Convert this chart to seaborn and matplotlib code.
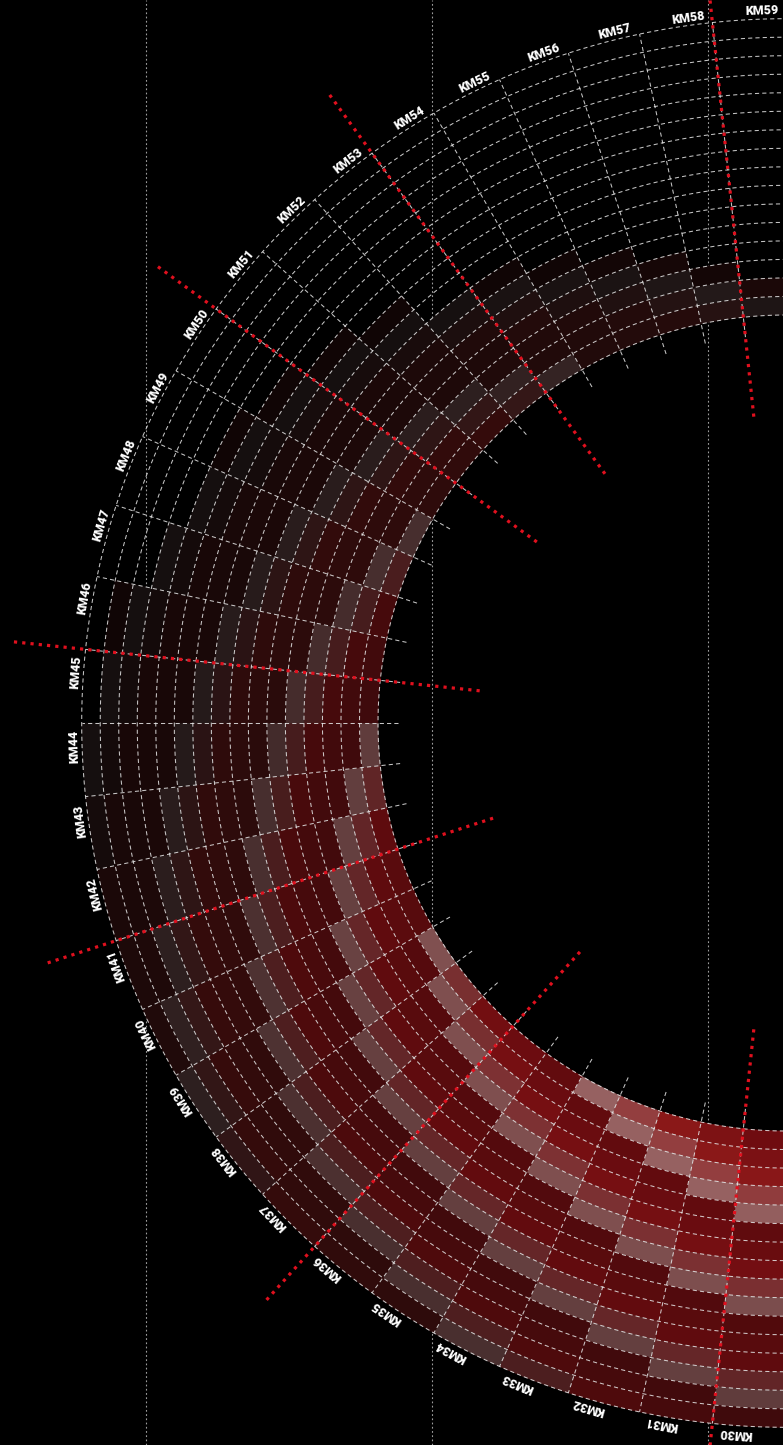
import numpy as np
import matplotlib
matplotlib.use("Agg")
import matplotlib.pyplot as plt
import seaborn as sns
from matplotlib.colors import Normalize

# ---------------- data ----------------
segments = ["KM30", "KM31", "KM32", "KM33", "KM34", "KM35", "KM36", "KM37", "KM38", "KM39",
            "KM40", "KM41", "KM42", "KM43", "KM44", "KM45", "KM46", "KM47", "KM48", "KM49",
            "KM50", "KM51", "KM52", "KM53", "KM54", "KM55", "KM56", "KM57", "KM58", "KM59"]

# intensity per segment, inner ring -> outer ring (16 rings), 0 = no data
levels = [
    [6.8, 7.6, 8.5, 8.5, 8.2, 5.8, 6.4, 7.1, 7.1, 6.8, 4.7, 5.2, 5.7, 5.6, 5.3, 3.7],
    [7.7, 8.6, 8.7, 8.4, 5.9, 6.5, 7.2, 7.2, 6.9, 4.8, 5.3, 5.8, 5.8, 5.5, 3.8, 4.1],
    [8.6, 8.7, 8.4, 5.9, 6.5, 7.2, 7.2, 6.9, 4.8, 5.3, 5.9, 5.8, 5.5, 3.8, 4.1, 4.5],
    [8.7, 8.4, 5.9, 6.5, 7.3, 7.2, 7.0, 4.8, 5.3, 5.9, 5.8, 5.5, 3.8, 4.1, 4.5, 4.3],
    [8.4, 5.9, 6.5, 7.3, 7.3, 7.0, 4.8, 5.3, 5.9, 5.8, 5.5, 3.8, 4.1, 4.5, 4.4, 4.1],
    [5.9, 6.5, 7.3, 7.3, 7.0, 4.9, 5.3, 5.9, 5.8, 5.5, 3.8, 4.1, 4.5, 4.4, 4.1, 2.8],
    [6.6, 7.3, 7.3, 7.0, 4.9, 5.3, 5.9, 5.8, 5.5, 3.8, 4.1, 4.5, 4.4, 4.1, 2.8, 2.9],
    [7.0, 7.0, 7.0, 5.0, 5.2, 5.7, 5.6, 5.6, 3.9, 4.1, 4.4, 4.3, 4.2, 2.9, 2.9, 3.1],
    [7.0, 7.0, 5.0, 5.2, 5.7, 5.7, 5.6, 3.9, 4.1, 4.4, 4.3, 4.2, 2.9, 2.9, 3.1, 2.9],
    [7.1, 5.0, 5.3, 5.8, 5.7, 5.7, 4.0, 4.2, 4.5, 4.4, 4.3, 2.9, 3.0, 3.2, 3.0, 2.8],
    [5.1, 5.4, 5.8, 5.8, 5.8, 4.0, 4.2, 4.5, 4.4, 4.3, 3.0, 3.1, 3.2, 3.1, 2.9, 2.0],
    [5.3, 5.7, 5.7, 5.6, 4.0, 4.1, 4.4, 4.3, 4.2, 2.9, 3.0, 3.1, 3.0, 2.8, 1.9, 1.8],
    [5.6, 5.6, 5.5, 3.9, 4.0, 4.3, 4.2, 4.1, 2.8, 2.9, 3.0, 2.8, 2.7, 1.8, 1.7, 1.7],
    [5.5, 5.4, 3.8, 3.9, 4.2, 4.1, 4.0, 2.7, 2.8, 2.9, 2.7, 2.6, 1.7, 1.6, 1.6, 1.4],
    [5.3, 3.7, 3.8, 4.1, 4.0, 3.8, 2.6, 2.7, 2.8, 2.6, 2.4, 1.6, 1.5, 1.5, 1.3, 1.4],
    [3.7, 3.8, 4.1, 4.0, 3.9, 2.6, 2.7, 2.8, 2.6, 2.4, 1.6, 1.5, 1.5, 1.3, 1.4, 0.0],
    [3.8, 4.1, 4.0, 3.9, 2.7, 2.7, 2.8, 2.6, 2.5, 1.6, 1.5, 1.5, 1.3, 1.4, 1.0, 0.0],
    [4.1, 4.0, 3.9, 2.7, 2.7, 2.8, 2.7, 2.5, 1.6, 1.6, 1.5, 1.3, 1.4, 0.0, 0.0, 0.0],
    [4.2, 4.0, 2.8, 2.8, 3.0, 2.8, 2.6, 1.7, 1.7, 1.6, 1.4, 1.4, 0.0, 0.0, 0.0, 0.0],
    [4.0, 2.8, 2.8, 3.0, 2.8, 2.6, 1.7, 1.7, 1.6, 1.4, 1.4, 1.0, 0.0, 0.0, 0.0, 0.0],
    [2.8, 2.8, 3.0, 2.8, 2.6, 1.8, 1.7, 1.7, 1.5, 1.4, 1.0, 0.0, 0.0, 0.0, 0.0, 0.0],
    [2.9, 3.0, 2.8, 2.7, 1.8, 1.7, 1.7, 1.5, 1.4, 1.0, 0.0, 0.0, 0.0, 0.0, 0.0, 0.0],
    [3.1, 3.0, 2.8, 1.9, 1.8, 1.8, 1.6, 1.4, 1.0, 0.0, 0.0, 0.0, 0.0, 0.0, 0.0, 0.0],
    [3.1, 3.0, 2.0, 1.9, 2.0, 1.8, 1.5, 0.0, 0.0, 0.0, 0.0, 0.0, 0.0, 0.0, 0.0, 0.0],
    [3.1, 2.1, 2.1, 2.2, 2.0, 1.7, 1.0, 0.0, 0.0, 0.0, 0.0, 0.0, 0.0, 0.0, 0.0, 0.0],
    [2.1, 2.1, 2.1, 1.9, 1.7, 1.0, 0.0, 0.0, 0.0, 0.0, 0.0, 0.0, 0.0, 0.0, 0.0, 0.0],
    [2.2, 2.2, 2.1, 1.8, 1.2, 0.0, 0.0, 0.0, 0.0, 0.0, 0.0, 0.0, 0.0, 0.0, 0.0, 0.0],
    [2.3, 2.3, 2.1, 1.4, 0.0, 0.0, 0.0, 0.0, 0.0, 0.0, 0.0, 0.0, 0.0, 0.0, 0.0, 0.0],
    [2.4, 2.3, 1.3, 0.0, 0.0, 0.0, 0.0, 0.0, 0.0, 0.0, 0.0, 0.0, 0.0, 0.0, 0.0, 0.0],
    [2.0, 1.7, 0.0, 0.0, 0.0, 0.0, 0.0, 0.0, 0.0, 0.0, 0.0, 0.0, 0.0, 0.0, 0.0, 0.0],
]

# tone per cell: 0 = saturated red, 1 = half muted, 2 = muted (greyish)
tones = [
    [0,0,0,1,2,0,0,0,1,2,0,0,0,1,2,0],
    [0,0,1,2,0,0,0,1,2,0,0,0,1,2,0,0],
    [0,1,2,0,0,0,1,2,0,0,0,1,2,0,0,0],
    [1,2,0,0,0,1,2,0,0,0,1,2,0,0,0,1],
    [2,0,0,0,1,2,0,0,0,1,2,0,0,0,1,2],
    [0,0,0,1,2,0,0,0,1,2,0,0,0,1,2,0],
    [0,0,1,2,0,0,0,1,2,0,0,0,1,2,0,0],
    [0,1,2,0,0,0,1,2,0,0,0,1,2,0,0,0],
    [1,2,0,0,0,1,2,0,0,0,1,2,0,0,0,1],
    [2,0,0,0,1,2,0,0,0,1,2,0,0,0,1,2],
    [0,0,0,1,2,0,0,0,1,2,0,0,0,1,2,0],
    [0,0,1,2,0,0,0,1,2,0,0,0,1,2,0,0],
    [0,1,2,0,0,0,1,2,0,0,0,1,2,0,0,0],
    [1,2,0,0,0,1,2,0,0,0,1,2,0,0,0,1],
    [2,0,0,0,1,2,0,0,0,1,2,0,0,0,1,2],
    [0,0,0,1,2,0,0,0,1,2,0,0,0,1,2,0],
    [0,0,1,2,0,0,0,1,2,0,0,0,1,2,0,0],
    [0,1,2,0,0,0,1,2,0,0,0,1,2,0,0,0],
    [1,2,0,0,0,1,2,0,0,0,1,2,0,0,0,1],
    [2,0,0,0,1,2,0,0,0,1,2,0,0,0,1,2],
    [0,0,0,1,2,0,0,0,1,2,0,0,0,1,2,0],
    [0,0,1,2,0,0,0,1,2,0,0,0,1,2,0,0],
    [0,1,2,0,0,0,1,2,0,0,0,1,2,0,0,0],
    [1,2,0,0,0,1,2,0,0,0,1,2,0,0,0,1],
    [2,0,0,0,1,2,0,0,0,1,2,0,0,0,1,2],
    [0,0,0,1,2,0,0,0,1,2,0,0,0,1,2,0],
    [0,0,1,2,0,0,0,1,2,0,0,0,1,2,0,0],
    [0,1,2,0,0,0,1,2,0,0,0,1,2,0,0,0],
    [1,2,0,0,0,1,2,0,0,0,1,2,0,0,0,1],
    [2,0,0,0,1,2,0,0,0,1,2,0,0,0,1,2],
]

# red dotted dividers placed after these segments
divider_after = ["KM30", "KM36", "KM41", "KM45", "KM50", "KM53", "KM58"]

# ---------------- style / layout ----------------
sns.set_theme(style="dark", rc={"figure.facecolor": "black", "axes.facecolor": "black",
                                "savefig.facecolor": "black"})
plt.rcParams["font.family"] = ["Roboto", "DejaVu Sans"]

W, H = 783, 1445
CX, CY = 786, 723          # pixel centre of the polar chart
RMAX = 800
R_IN, RING = 408.0, 18.52
SEC = 6.0                  # degrees per segment
START = 180.0              # angle of first segment start (clockwise from north)
N_RING = 16

fig = plt.figure(figsize=(W / 100, H / 100), dpi=100)
fig.patch.set_facecolor("black")

# background guide lines
bg = fig.add_axes([0, 0, 1, 1])
bg.set_xlim(0, W)
bg.set_ylim(H, 0)
bg.axis("off")
for gx in (146, 432, 708):
    bg.axvline(gx, color="#d0d0d0", lw=0.8, ls=(0, (1.6, 2.2)), alpha=0.75)

ax = fig.add_axes([(CX - RMAX) / W, (H - CY - RMAX) / H, 2 * RMAX / W, 2 * RMAX / H],
                  projection="polar")
ax.set_theta_zero_location("N")
ax.set_theta_direction(-1)
ax.set_ylim(0, RMAX)
ax.axis("off")

red_cmap = sns.blend_palette(["#000000", "#240b0b", "#4e0a0c", "#6e0c10", "#901a1a"], as_cmap=True)
mute_cmap = sns.blend_palette(["#000000", "#221818", "#523434", "#7a4c4c", "#a06868"], as_cmap=True)
norm = Normalize(0, 9)

lv = np.array(levels)
tn = np.array(tones)
theta = np.radians(START + SEC * np.arange(len(segments)) + SEC / 2)

for k in range(N_RING):
    cols, th = [], []
    for i in range(len(segments)):
        v = lv[i, k]
        if v <= 0:
            continue
        a = np.array(red_cmap(norm(v)))
        b = np.array(mute_cmap(norm(v)))
        w = tn[i, k] / 2.0
        cols.append(tuple((1 - w) * a + w * b))
        th.append(theta[i])
    if th:
        ax.bar(th, RING, width=np.radians(SEC), bottom=R_IN + k * RING, color=cols,
               edgecolor=cols, linewidth=0.4, align="center", zorder=1)

# dashed grid: rings
tt = np.linspace(0, 2 * np.pi, 2881)
for i in range(N_RING + 1):
    ax.plot(tt, np.full_like(tt, R_IN + i * RING), color="#e8e8e8", lw=0.75,
            ls=(0, (4, 3)), alpha=0.85, zorder=3)
# dashed grid: radial separators
R_OUT = R_IN + N_RING * RING
for m in range(60):
    a = np.radians(m * SEC)
    ax.plot([a, a], [388, R_OUT], color="#e8e8e8", lw=0.75, ls=(0, (4, 3)), alpha=0.85, zorder=3)

# red dotted dividers
for s in divider_after:
    i = segments.index(s)
    a = np.radians(START + SEC * (i + 1))
    ax.plot([a, a], [308, 780], color="#e0101e", lw=2.3, ls=(0, (1, 1.6)), zorder=4)

# segment labels
for i, s in enumerate(segments):
    deg = START + SEC * i + SEC / 2 + 1.1
    ax.text(np.radians(deg), 712, s, rotation=-deg, rotation_mode="anchor",
            ha="center", va="center", color="white", fontsize=9, fontweight="black", zorder=5)

fig.savefig("out.png", dpi=100, facecolor="black")
